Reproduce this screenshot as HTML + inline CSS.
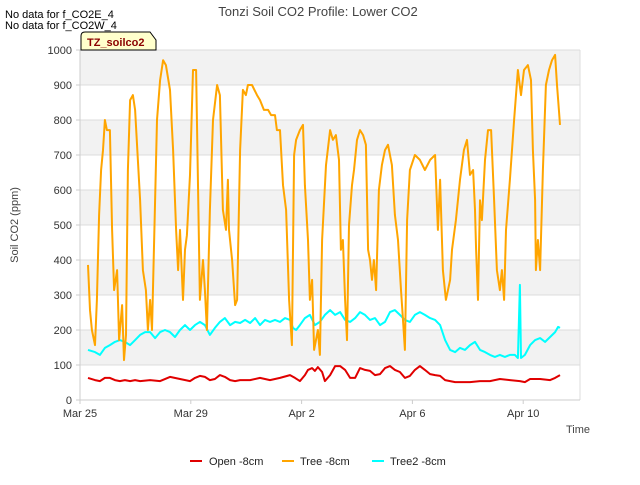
<!DOCTYPE html>
<html><head><meta charset="utf-8"><style>
body{margin:0;background:#fff;font-family:"Liberation Sans",sans-serif}
svg text{font-family:"Liberation Sans","DejaVu Sans",sans-serif}
</style></head><body>
<svg id="chart" width="640" height="480" xmlns="http://www.w3.org/2000/svg">
<text x="318" y="16" text-anchor="middle" font-size="13" fill="#444">Tonzi Soil CO2 Profile: Lower CO2</text>
<text x="5" y="18" font-size="11" fill="#000">No data for f_CO2E_4</text>
<text x="5" y="29" font-size="11" fill="#000">No data for f_CO2W_4</text>
<g id="bands"></g>
<g id="grid"></g>
<g id="series"></g>
<g id="axes"></g>
<g>
<path d="M81,50 L81,36 Q81,32 85,32 L150,32 L156,40 L156,50 Z" fill="#ffffcc" stroke="#000" stroke-width="1"/>
<text x="87" y="46" font-size="11" font-weight="bold" fill="#8b0000">TZ_soilco2</text>
</g>
<text x="18" y="225" font-size="11" fill="#444" text-anchor="middle" transform="rotate(-90 18 225)">Soil CO2 (ppm)</text>
<text x="566" y="433" font-size="11" fill="#444">Time</text>
<g>
<line x1="190" y1="461" x2="202" y2="461" stroke="#e00000" stroke-width="2"/>
<text x="209" y="465" font-size="11" fill="#222">Open -8cm</text>
<line x1="282" y1="461" x2="294" y2="461" stroke="orange" stroke-width="2"/>
<text x="300" y="465" font-size="11" fill="#222">Tree -8cm</text>
<line x1="372" y1="461" x2="384" y2="461" stroke="cyan" stroke-width="2"/>
<text x="390" y="465" font-size="11" fill="#222">Tree2 -8cm</text>
</g>
</svg>
<script>
const yTicks=[0,100,200,300,400,500,600,700,800,900,1000];
const xTickDays=[0,4,8,12,16];
const xTickLabels=["Mar 25","Mar 29","Apr 2","Apr 6","Apr 10"];
const treeT=[0.29,0.36,0.43,0.54,0.61,0.69,0.76,0.83,0.90,0.97,1.08,1.16,1.23,1.34,1.41,1.52,1.59,1.66,1.73,1.81,1.91,1.99,2.17,2.27,2.38,2.45,2.53,2.60,2.71,2.78,2.89,3.00,3.10,3.25,3.36,3.47,3.54,3.61,3.72,3.79,3.86,3.97,4.08,4.19,4.33,4.44,4.51,4.58,4.69,4.80,4.95,5.05,5.16,5.27,5.34,5.38,5.49,5.60,5.67,5.78,5.88,5.99,6.06,6.21,6.39,6.50,6.64,6.79,6.90,7.04,7.11,7.22,7.33,7.44,7.55,7.65,7.73,7.80,7.94,8.05,8.12,8.23,8.30,8.38,8.45,8.59,8.66,8.74,8.88,9.03,9.13,9.24,9.35,9.42,9.49,9.57,9.64,9.71,9.82,9.89,10.0,10.11,10.22,10.32,10.40,10.47,10.54,10.61,10.69,10.79,10.90,11.01,11.12,11.26,11.37,11.48,11.59,11.66,11.73,11.81,11.91,12.09,12.27,12.45,12.64,12.82,12.92,13.0,13.10,13.21,13.36,13.43,13.57,13.72,13.86,13.97,14.08,14.19,14.26,14.30,14.37,14.44,14.51,14.62,14.73,14.84,14.95,15.05,15.16,15.23,15.31,15.38,15.52,15.67,15.81,15.92,16.03,16.17,16.28,16.35,16.43,16.46,16.53,16.61,16.71,16.82,16.93,17.04,17.15,17.22,17.29,17.33];
const treeV=[386,257,200,157,286,529,657,714,800,771,771,486,314,371,171,271,114,186,657,857,871,829,571,371,314,200,286,200,571,800,914,971,957,886,714,486,371,486,286,429,471,643,943,943,286,400,314,200,543,800,900,871,543,486,629,486,400,271,286,714,886,871,900,900,871,857,829,829,814,814,771,771,614,543,286,157,700,743,771,786,614,457,286,343,143,200,129,457,671,771,743,757,686,429,457,286,171,500,614,657,743,771,757,729,429,400,343,400,314,600,671,714,729,671,529,457,314,229,143,514,657,700,686,657,686,700,486,629,371,286,343,429,514,629,714,743,643,657,543,429,286,571,514,686,771,771,571,371,314,371,286,486,629,800,943,871,943,957,914,714,571,371,457,371,657,900,943,971,986,900,829,786];
const tree2T=[0.29,0.54,0.72,0.90,1.08,1.26,1.44,1.62,1.81,1.99,2.17,2.35,2.53,2.71,2.89,3.07,3.25,3.43,3.61,3.79,3.97,4.15,4.33,4.51,4.69,4.87,5.05,5.23,5.42,5.60,5.78,5.96,6.14,6.32,6.50,6.68,6.86,7.04,7.22,7.40,7.58,7.69,7.80,7.94,8.12,8.30,8.48,8.66,8.84,9.03,9.21,9.39,9.57,9.75,9.93,10.11,10.29,10.47,10.65,10.83,11.01,11.19,11.37,11.55,11.73,11.91,12.09,12.27,12.45,12.64,12.82,13.00,13.18,13.36,13.54,13.72,13.90,14.08,14.26,14.44,14.62,14.80,14.98,15.16,15.34,15.52,15.70,15.81,15.88,15.92,16.06,16.25,16.43,16.61,16.79,16.97,17.15,17.26,17.33];
const tree2V=[143,137,129,149,157,166,171,166,157,171,186,194,194,177,194,200,194,180,200,214,200,214,223,214,186,206,223,234,214,223,220,229,220,234,214,229,223,229,223,234,229,206,200,214,234,243,214,223,243,257,243,251,229,223,234,251,243,229,234,214,223,251,257,243,229,223,243,251,243,234,229,214,171,143,137,149,143,157,166,143,137,129,123,129,123,129,129,120,329,120,129,157,171,177,166,180,194,209,206];
const openT=[0.29,0.54,0.72,0.90,1.08,1.26,1.44,1.62,1.81,1.99,2.17,2.53,2.89,3.25,3.61,3.97,4.15,4.33,4.51,4.69,4.87,5.05,5.23,5.42,5.60,5.78,6.14,6.50,6.86,7.22,7.58,7.76,7.94,8.12,8.23,8.38,8.48,8.59,8.74,8.84,9.03,9.21,9.39,9.57,9.75,9.93,10.11,10.29,10.47,10.65,10.83,11.01,11.19,11.37,11.55,11.73,11.91,12.09,12.27,12.45,12.64,12.82,13.00,13.18,13.36,13.54,13.72,14.08,14.44,14.80,15.16,15.52,15.88,16.06,16.25,16.61,16.97,17.15,17.33];
const openV=[63,57,54,63,63,57,54,57,54,57,54,57,54,66,60,54,63,69,66,57,60,71,66,57,54,57,57,63,57,63,71,63,54,71,86,91,83,94,80,54,71,97,97,86,63,63,91,86,83,71,74,91,97,86,80,63,69,86,97,86,74,71,69,57,54,51,51,51,54,54,60,57,54,51,60,60,57,63,71];

const NS="http://www.w3.org/2000/svg";
const L=80,R=580,T=50,B=400;
const xs=d=>L+d*27.7;
const ys=v=>B-(v/1000)*(B-T);
function mk(tag,attrs,parent){const e=document.createElementNS(NS,tag);for(const k in attrs)e.setAttribute(k,attrs[k]);parent.appendChild(e);return e;}
const bands=document.getElementById('bands'),grid=document.getElementById('grid'),axes=document.getElementById('axes'),series=document.getElementById('series');
mk('rect',{x:L,y:T,width:R-L,height:B-T,fill:'#fff'},bands);
for(let i=0;i<yTicks.length-1;i++){
  if(i%2===1){const r=mk('rect',{x:L,y:ys(yTicks[i+1]),width:R-L,height:ys(yTicks[i])-ys(yTicks[i+1]),fill:'#f2f2f2'},bands);
  
  }
}
yTicks.forEach(v=>{
  const g=mk('line',{x1:L,x2:R,y1:ys(v),y2:ys(v),stroke:'#dcdcdc','stroke-width':1},grid);
  
  
  const t=mk('text',{x:L-8,y:ys(v)+4,'text-anchor':'end','font-size':11,fill:'#333'},axes);
  t.textContent=v;
  
  
  mk('line',{x1:L-4,x2:L,y1:ys(v),y2:ys(v),stroke:'#ccc'},axes);
});
mk('line',{x1:L,x2:L,y1:T,y2:B,stroke:'#ccc'},axes);
mk('line',{x1:R,x2:R,y1:T,y2:B,stroke:'#ddd'},axes);
mk('line',{x1:L,x2:R,y1:B,y2:B,stroke:'#ccc'},axes);
xTickDays.forEach((d,i)=>{
  mk('line',{x1:xs(d),x2:xs(d),y1:B,y2:B+4,stroke:'#ccc'},axes);
  const t=mk('text',{x:xs(d),y:B+17,'text-anchor':'middle','font-size':11,fill:'#333'},axes);
  t.textContent=xTickLabels[i];
  
  
});
function line(ts,vs,color,name){
  const n=Math.min(ts.length,vs.length);
  let d='';
  for(let i=0;i<n;i++)d+=(i?'L':'M')+xs(ts[i]).toFixed(1)+','+ys(vs[i]).toFixed(1);
  const p=mk('path',{d:d,fill:'none',stroke:color,'stroke-width':2,'stroke-linejoin':'round'},series);
  
  
}
line(openT,openV,'#e00000','open-8cm-line');
line(tree2T,tree2V,'cyan','tree2-8cm-line');
line(treeT,treeV,'orange','tree-8cm-line');
</script>
</body></html>
